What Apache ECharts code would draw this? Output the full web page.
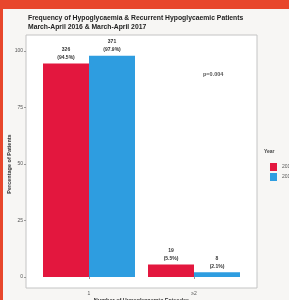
<!DOCTYPE html>
<html>
<head>
<meta charset="utf-8">
<script src="https://cdn.jsdelivr.net/npm/echarts@6/dist/echarts.min.js"></script>
<style>
html, body { margin: 0; padding: 0; background: #e8472c; }
#chart { width: 289px; height: 300px; }
</style>
</head>
<body>
<div id="chart"></div>
<script>
// episode categories and per-year values
var categories = ['1', '\u22652'];
var years = ['2016', '2017'];
var pct2016 = [94.5, 5.5];
var pct2017 = [97.9, 2.1];
var count2016 = [326, 19];
var count2017 = [371, 8];
var yTicks = [0, 25, 50, 75, 100];

var chart = echarts.init(document.getElementById('chart'));

function barLabel(counts) {
    return {
        show: true,
        position: 'top',
        distance: 2,
        fontSize: 5,
        fontWeight: 'bold',
        lineHeight: 8,
        color: '#333',
        formatter: function (p) {
            return counts[p.dataIndex] + '\n(' + p.value + '%)';
        }
    };
}

chart.setOption({
    backgroundColor: '#e8472c',
    animation: false,
    textStyle: { fontFamily: 'Liberation Sans, Arial, sans-serif' },
    title: {
        text: 'Frequency of Hypoglycaemia & Recurrent Hypoglycaemic Patients\nMarch-April 2016 & March-April 2017',
        left: 23,
        top: 9,
        textStyle: { fontSize: 6.8, fontWeight: 'bold', color: '#222', lineHeight: 9 }
    },
    graphic: [
        { type: 'rect', z: -10, shape: { x: 3, y: 9, width: 290, height: 295 }, style: { fill: '#f7f6f4' } },
        { type: 'rect', z: -5, shape: { x: 26, y: 35, width: 231, height: 253 }, style: { fill: '#fff', stroke: '#c4c4c4', lineWidth: 1 } },
        { type: 'text', left: 203, top: 71, style: { text: 'p=0.004', fontSize: 5.5, fontWeight: 'bold', fill: '#555' } },
        { type: 'text', left: 264, top: 149, style: { text: 'Year', fontSize: 5, fontWeight: 'bold', fill: '#444' } }
    ],
    legend: {
        data: years,
        orient: 'vertical',
        left: 265,
        top: 158,
        icon: 'rect',
        itemWidth: 7,
        itemHeight: 8,
        itemGap: 2,
        textStyle: { fontSize: 5, color: '#555' }
    },
    grid: { left: 36.5, right: 42.5, top: 51, bottom: 23, outerBoundsMode: 'none', containLabel: false },
    xAxis: {
        type: 'category',
        data: categories,
        offset: 11,
        name: 'Number of Hypoglycaemic Episodes',
        nameLocation: 'middle',
        nameGap: 9,
        nameMoveOverlap: false,
        nameTextStyle: { fontSize: 5.5, color: '#333', fontWeight: 'bold' },
        axisLine: { show: false },
        axisTick: { show: true, alignWithLabel: true, length: 2, lineStyle: { color: '#999' } },
        axisLabel: { fontSize: 5, color: '#555', margin: 3 }
    },
    yAxis: {
        type: 'value',
        min: 0,
        max: 100,
        interval: 25,
        offset: 10.5,
        name: 'Percentage of Patients',
        nameLocation: 'middle',
        nameGap: 14,
        nameMoveOverlap: false,
        nameTextStyle: { fontSize: 5.5, color: '#333', fontWeight: 'bold' },
        axisLine: { show: false },
        axisTick: { show: true, length: 2, lineStyle: { color: '#999' } },
        axisLabel: { fontSize: 5, color: '#555', margin: 3,
            formatter: function (v) { return yTicks.indexOf(v) >= 0 ? v : ''; } },
        splitLine: { show: false }
    },
    series: [
        {
            name: '2016',
            type: 'bar',
            data: pct2016,
            barWidth: 46,
            barGap: '0%',
            itemStyle: { color: '#e3173e' },
            label: barLabel(count2016)
        },
        {
            name: '2017',
            type: 'bar',
            data: pct2017,
            barWidth: 46,
            itemStyle: { color: '#2e9de0' },
            label: barLabel(count2017)
        }
    ]
});
</script>
</body>
</html>
